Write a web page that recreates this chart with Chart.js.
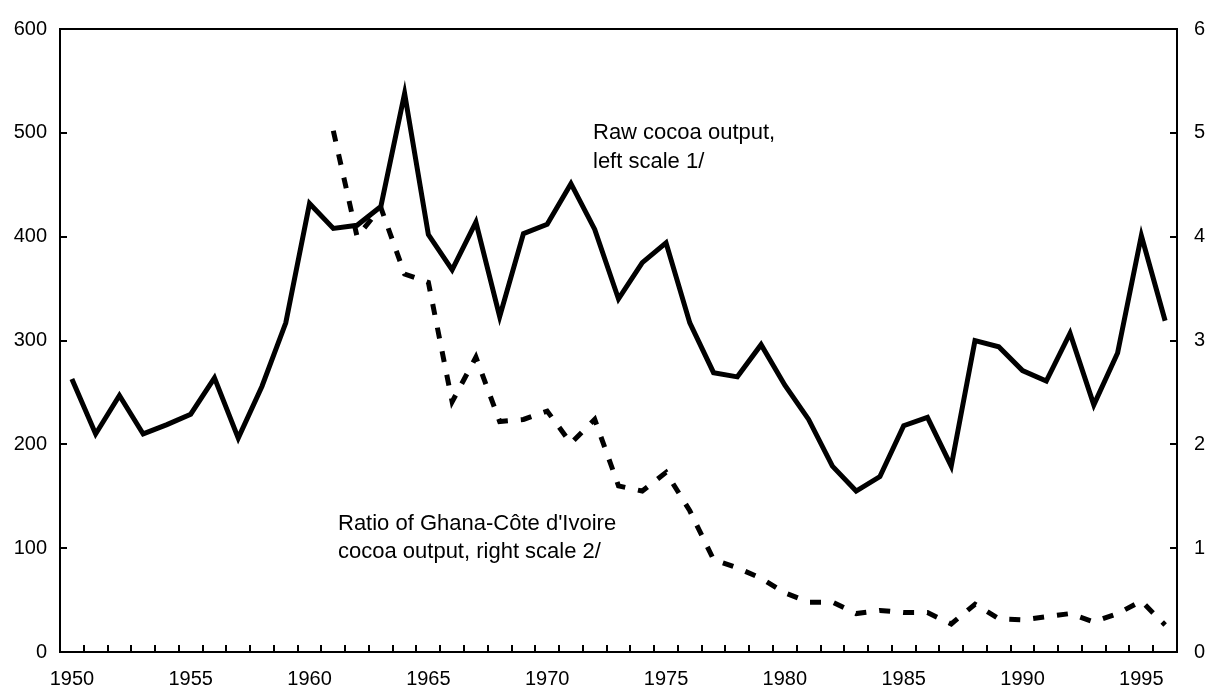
<!DOCTYPE html>
<html><head><meta charset="utf-8">
<script src="https://cdn.jsdelivr.net/npm/chart.js@4/dist/chart.umd.min.js"></script>
<style>html,body{margin:0;padding:0;background:#fff;}canvas{display:block}</style>
</head><body>
<canvas id="c" width="1208" height="694"></canvas>
<script>
const years = [1950,1951,1952,1953,1954,1955,1956,1957,1958,1959,1960,1961,1962,1963,1964,1965,1966,1967,1968,1969,1970,1971,1972,1973,1974,1975,1976,1977,1978,1979,1980,1981,1982,1983,1984,1985,1986,1987,1988,1989,1990,1991,1992,1993,1994,1995,1996];
const rawCocoaOutput = [263,210,247,210,219,229,264,206,256,317,432,408,411,429,538,402,368,414,323,403,412,451,407,340,375,394,317,269,265,296,257,224,179,155,169,218,226,179,300,294,271,261,307,238,288,401,319];
const ghanaCoteRatio = [null,null,null,null,null,null,null,null,null,null,null,5.02,4.0,4.28,3.64,3.56,2.41,2.84,2.22,2.24,2.32,2.01,2.24,1.60,1.55,1.73,1.36,0.89,0.81,0.71,0.57,0.48,0.48,0.37,0.40,0.38,0.38,0.27,0.46,0.32,0.31,0.34,0.37,0.29,0.37,0.49,0.26];
const labeledYears = [1950,1955,1960,1965,1970,1975,1980,1985,1990,1995];
const leftTicks = [0,100,200,300,400,500,600];
const rightTicks = [0,1,2,3,4,5,6];
const rawLabel = ['Raw cocoa output,', 'left scale 1/'];
const ratioLabel = ["Ratio of Ghana-Côte d'Ivoire", 'cocoa output, right scale 2/'];

const FONT = '"Liberation Sans", Arial, sans-serif';

const decor = {
  id: 'decor',
  afterDraw(chart) {
    const ctx = chart.ctx, a = chart.chartArea;
    const x = chart.scales.x, yL = chart.scales.y, yR = chart.scales.yR;
    ctx.save();
    ctx.strokeStyle = '#000';
    ctx.lineWidth = 2;
    ctx.beginPath(); ctx.moveTo(a.left - 1, a.top); ctx.lineTo(a.right + 1, a.top); ctx.stroke();
    const half = (x.getPixelForValue(1) - x.getPixelForValue(0)) / 2;
    ctx.beginPath();
    for (let i = 0; i <= years.length; i++) {
      const px = Math.round(x.getPixelForValue(i) - half);
      ctx.moveTo(px, a.bottom); ctx.lineTo(px, a.bottom - 7);
    }
    leftTicks.forEach(v => { const py = Math.round(yL.getPixelForValue(v)); ctx.moveTo(a.left, py); ctx.lineTo(a.left + 7, py); });
    rightTicks.forEach(v => { const py = Math.round(yR.getPixelForValue(v)); ctx.moveTo(a.right, py); ctx.lineTo(a.right - 7, py); });
    ctx.stroke();
    ctx.fillStyle = '#000';
    ctx.font = '22px ' + FONT;
    ctx.textBaseline = 'alphabetic';
    ctx.textAlign = 'left';
    ctx.fillText(rawLabel[0], 593, 139);
    ctx.fillText(rawLabel[1], 593, 168);
    ctx.fillText(ratioLabel[0], 338, 530);
    ctx.fillText(ratioLabel[1], 338, 558);
    ctx.restore();
  }
};

new Chart(document.getElementById('c'), {
  type: 'line',
  data: {
    labels: years.map(String),
    datasets: [
      { label: 'Raw cocoa output', data: rawCocoaOutput, yAxisID: 'y', borderColor: '#000', borderWidth: 5, pointRadius: 0, tension: 0, fill: false, borderJoinStyle: 'miter', borderCapStyle: 'butt' },
      { label: 'Ratio', data: ghanaCoteRatio, yAxisID: 'yR', borderColor: '#000', borderWidth: 5, borderDash: [11, 13], pointRadius: 0, tension: 0, fill: false, borderCapStyle: 'butt', spanGaps: false }
    ]
  },
  options: {
    responsive: false,
    animation: false,
    layout: { padding: { top: 28, left: 0, right: 0, bottom: 0 } },
    plugins: { legend: { display: false }, tooltip: { enabled: false } },
    scales: {
      x: {
        type: 'category', offset: true,
        grid: { display: false, drawTicks: false },
        border: { display: true, color: '#000', width: 2 },
        ticks: {
          autoSkip: false, maxRotation: 0, minRotation: 0, padding: 15, color: '#000',
          font: { size: 20, family: FONT },
          callback: (v, i) => labeledYears.includes(years[i]) ? String(years[i]) : ''
        },
        afterFit: s => { s.height = 42; }
      },
      y: {
        position: 'left', min: 0, max: 600,
        grid: { display: false, drawTicks: false },
        border: { display: true, color: '#000', width: 2 },
        ticks: { stepSize: 100, padding: 13, color: '#000', font: { size: 20, family: FONT } },
        afterFit: s => { s.width = 60; }
      },
      yR: {
        position: 'right', min: 0, max: 6,
        grid: { display: false, drawTicks: false },
        border: { display: true, color: '#000', width: 2 },
        ticks: { stepSize: 1, padding: 17, color: '#000', font: { size: 20, family: FONT } },
        afterFit: s => { s.width = 31; }
      }
    }
  },
  plugins: [decor]
});
</script>
</body></html>
